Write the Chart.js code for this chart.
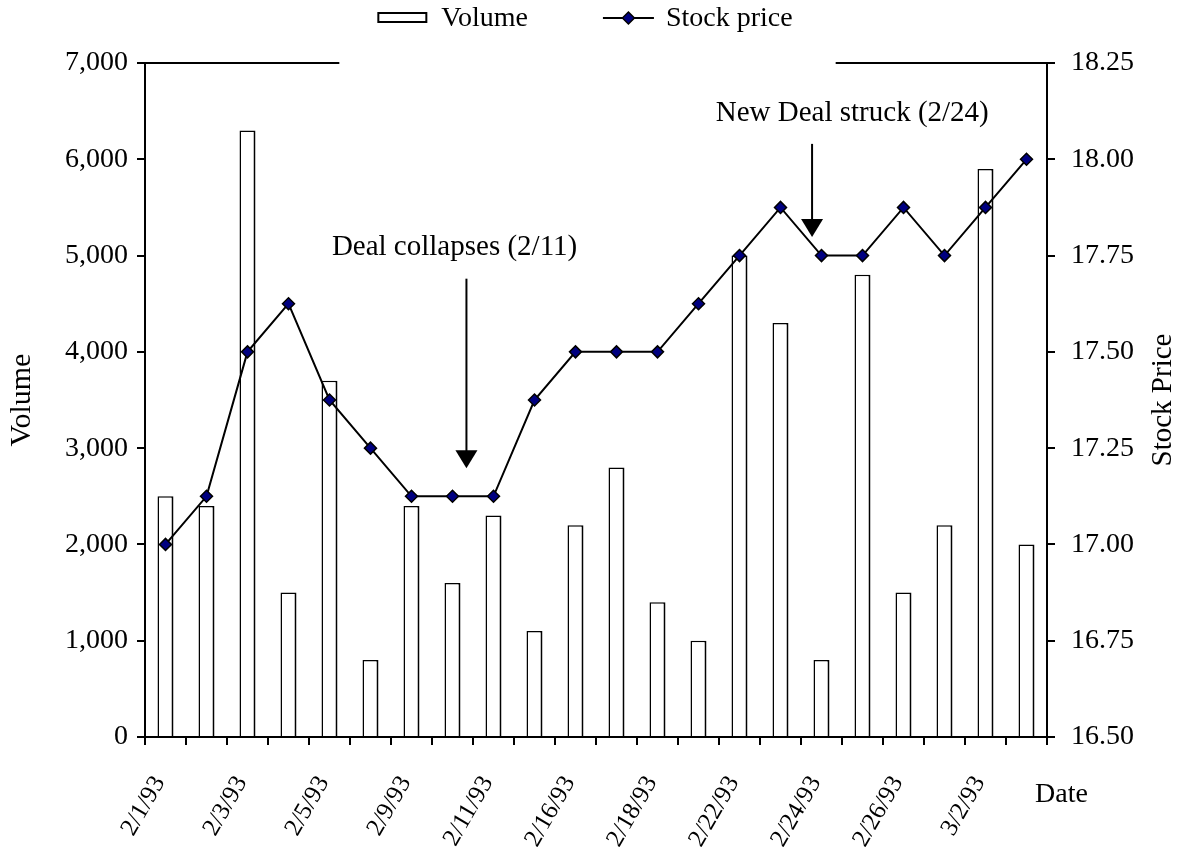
<!DOCTYPE html>
<html>
<head>
<meta charset="utf-8">
<script src="https://cdn.jsdelivr.net/npm/chart.js@4.4.0/dist/chart.umd.min.js"></script>
<style>
  html, body { margin: 0; padding: 0; background: #fff; }
</style>
</head>
<body>
<canvas id="chart" width="1183" height="851"></canvas>
<script>
// trading days, Feb - Mar 1993
const dates = ['2/1/93', '2/2/93', '2/3/93', '2/4/93', '2/5/93', '2/8/93', '2/9/93', '2/10/93',
  '2/11/93', '2/12/93', '2/16/93', '2/17/93', '2/18/93', '2/19/93', '2/22/93', '2/23/93',
  '2/24/93', '2/25/93', '2/26/93', '3/1/93', '3/2/93', '3/3/93'];
const volume = [2500, 2400, 6300, 1500, 3700, 800, 2400, 1600, 2300, 1100, 2200,
  2800, 1400, 1000, 5000, 4300, 800, 4800, 1500, 2200, 5900, 2000];
const price = [17.00, 17.125, 17.50, 17.625, 17.375, 17.25, 17.125, 17.125, 17.125, 17.375, 17.50,
  17.50, 17.50, 17.625, 17.75, 17.875, 17.75, 17.75, 17.875, 17.75, 17.875, 18.00];

// callouts: text anchor and arrow, in category index / stock price units
const notes = [
  { text: 'Deal collapses (2/11)', textAt: 7.05, textPrice: 17.77, arrowAt: 7.34, fromPrice: 17.69, toPrice: 17.198 },
  { text: 'New Deal struck (2/24)', textAt: 16.75, textPrice: 18.12, arrowAt: 15.77, fromPrice: 18.04, toPrice: 17.798 }
];

const FONT = '"Liberation Serif", "Times New Roman", serif';
Chart.defaults.color = '#000';
Chart.defaults.font.family = FONT;

const annotate = {
  id: 'annotate',
  afterDatasetsDraw(chart) {
    const ctx = chart.ctx;
    const x = chart.scales.x, yr = chart.scales.yPrice;
    ctx.save();
    ctx.fillStyle = '#000';
    ctx.strokeStyle = '#000';
    ctx.font = '29px ' + FONT;
    ctx.textAlign = 'center';
    ctx.textBaseline = 'middle';
    notes.forEach(n => {
      ctx.fillText(n.text, x.getPixelForValue(n.textAt), yr.getPixelForValue(n.textPrice));
      const ax = x.getPixelForValue(n.arrowAt);
      const y0 = yr.getPixelForValue(n.fromPrice);
      const y1 = yr.getPixelForValue(n.toPrice);
      ctx.lineWidth = 2;
      ctx.beginPath();
      ctx.moveTo(ax, y0);
      ctx.lineTo(ax, y1 - 16);
      ctx.stroke();
      ctx.beginPath();
      ctx.moveTo(ax - 11, y1 - 18);
      ctx.lineTo(ax + 11, y1 - 18);
      ctx.lineTo(ax, y1);
      ctx.closePath();
      ctx.fill();
    });
    ctx.restore();
  }
};

// legend, broken top frame line, right-hand title and "Date"
const frame = {
  id: 'frame',
  afterDraw(chart) {
    const ctx = chart.ctx;
    const area = chart.chartArea;
    const ds = chart.data.datasets;
    ctx.save();
    ctx.font = '28px ' + FONT;
    ctx.fillStyle = '#000';
    ctx.strokeStyle = '#000';
    ctx.textBaseline = 'middle';
    ctx.textAlign = 'left';

    const volLabel = ds[1].label, priceLabel = ds[0].label;
    const w1 = ctx.measureText(volLabel).width;
    const w2 = ctx.measureText(priceLabel).width;
    const total = 48 + 15 + w1 + 75 + 51 + 12 + w2;
    const lx = (chart.width - total) / 2 - 6;
    const ly = 18;

    ctx.lineWidth = 2;
    ctx.strokeRect(lx, ly - 5, 48, 9);
    ctx.fillText(volLabel, lx + 63, ly + 1);

    const lx2 = lx + 63 + w1 + 75;
    ctx.beginPath();
    ctx.moveTo(lx2, ly);
    ctx.lineTo(lx2 + 51, ly);
    ctx.stroke();
    ctx.fillStyle = '#000080';
    ctx.lineWidth = 1.5;
    Chart.helpers.drawPoint(ctx, { pointStyle: 'rectRot', radius: 6, borderWidth: 1.5 }, lx2 + 25.5, ly);
    ctx.fillStyle = '#000';
    ctx.fillText(priceLabel, lx2 + 63, ly + 1);

    // top frame, interrupted around the legend
    ctx.lineWidth = 2;
    ctx.beginPath();
    ctx.moveTo(area.left, area.top);
    ctx.lineTo(lx - 39, area.top);
    ctx.moveTo(lx + total + 43, area.top);
    ctx.lineTo(area.right, area.top);
    ctx.stroke();

    ctx.font = '29px ' + FONT;
    ctx.save();
    ctx.translate(chart.width - 20, (area.top + area.bottom) / 2);
    ctx.rotate(-Math.PI / 2);
    ctx.textAlign = 'center';
    ctx.fillText('Stock Price', 0, 0);
    ctx.restore();

    ctx.font = '28px ' + FONT;
    ctx.fillText('Date', area.right - 12, area.bottom + 58);
    ctx.restore();
  }
};

new Chart(document.getElementById('chart'), {
  type: 'bar',
  data: {
    labels: dates,
    datasets: [
      {
        type: 'line',
        label: 'Stock price',
        data: price,
        yAxisID: 'yPrice',
        order: 0,
        borderColor: '#000',
        borderWidth: 2,
        tension: 0,
        pointStyle: 'rectRot',
        pointRadius: 6,
        pointBackgroundColor: '#000080',
        pointBorderColor: '#000',
        pointBorderWidth: 1.5
      },
      {
        type: 'bar',
        label: 'Volume',
        data: volume,
        yAxisID: 'yVol',
        order: 1,
        backgroundColor: '#fff',
        borderColor: '#000',
        borderWidth: { top: 1.5, left: 1.5, right: 2, bottom: 0 },
        borderSkipped: false,
        categoryPercentage: 1,
        barPercentage: 0.39
      }
    ]
  },
  options: {
    responsive: false,
    animation: false,
    devicePixelRatio: 1,
    layout: { padding: { top: 63, left: 0, right: 0, bottom: 0 } },
    plugins: {
      legend: { display: false },
      tooltip: { enabled: false }
    },
    scales: {
      x: {
        grid: { offset: true, drawOnChartArea: false, color: '#000', lineWidth: 2, tickLength: 8 },
        border: { color: '#000', width: 2 },
        ticks: {
          autoSkip: false,
          minRotation: 60,
          maxRotation: 60,
          padding: 26,
          labelOffset: -6,
          font: { size: 25 },
          callback: (v, i) => (i % 2 === 0 ? dates[i] : '')
        },
        afterFit: s => { s.height = 114; }
      },
      yVol: {
        position: 'left',
        min: 0,
        max: 7000,
        grid: { drawOnChartArea: false, color: '#000', lineWidth: 2, tickLength: 8 },
        border: { color: '#000', width: 2 },
        ticks: {
          stepSize: 1000,
          padding: 9,
          font: { size: 28 },
          callback: v => v.toLocaleString('en-US')
        },
        title: { display: true, text: 'Volume', font: { size: 30 }, padding: { top: 4, bottom: 0 } },
        afterFit: s => { s.width = 145; }
      },
      yPrice: {
        position: 'right',
        min: 16.5,
        max: 18.25,
        grid: { drawOnChartArea: false, color: '#000', lineWidth: 2, tickLength: 8 },
        border: { color: '#000', width: 2 },
        ticks: {
          stepSize: 0.25,
          padding: 16,
          font: { size: 28 },
          callback: v => v.toFixed(2)
        },
        afterFit: s => { s.width = 136; }
      }
    }
  },
  plugins: [annotate, frame]
});
</script>
</body>
</html>
